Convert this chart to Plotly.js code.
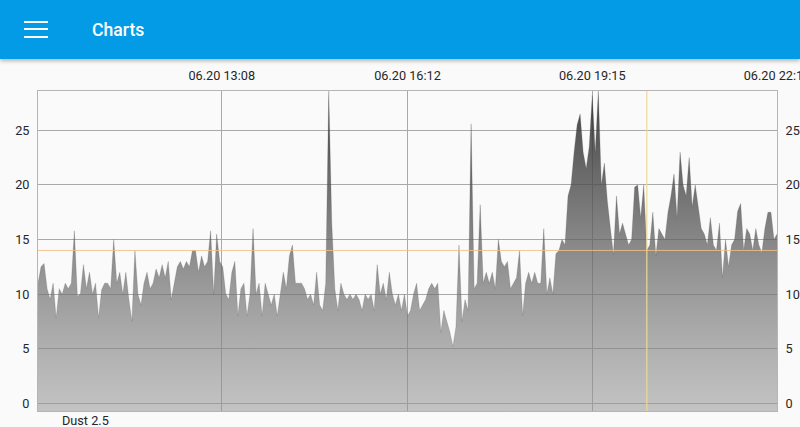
<!DOCTYPE html>
<html>
<head>
<meta charset="utf-8">
<script src="https://cdn.plot.ly/plotly-3.0.1.min.js"></script>
<style>
  html, body { margin: 0; padding: 0; background: #fafafa; width: 800px; height: 427px; overflow: hidden; }
  #chart { position: absolute; left: 0; top: 0; width: 800px; height: 427px; }
  #appbar { position: absolute; left: 0; top: 0; width: 800px; height: 59px; background: #039be5;
            box-shadow: 0 2px 4px rgba(0,0,0,0.28); z-index: 5; }
  .bar { position: absolute; left: 24px; width: 24px; height: 2.4px; background: #ffffff; }
  #title { position: absolute; left: 92px; top: 19px; color: #ffffff; font-family: Roboto, "Noto Sans", sans-serif;
           font-weight: 500; font-size: 17.6px; line-height: 22px; }
</style>
</head>
<body>
<div id="appbar">
  <div class="bar" style="top:20.5px"></div>
  <div class="bar" style="top:28px"></div>
  <div class="bar" style="top:35.5px"></div>
  <div id="title">Charts</div>
</div>
<div id="chart"></div>
<script>
// ---- data ----
const SERIES_NAME = "Dust 2.5";
const START_TIME = "2023-06-20 10:06";   // first sample
const STEP_MINUTES = 3;                   // sampling interval of the readings below
const DUST_25 = [
  11, 12.5, 12.8, 10.5, 9.5, 11, 7.8, 10.5, 10, 11,
  10.5, 11, 15.8, 9.8, 10, 12.7, 10.5, 12, 10, 11,
  7.8, 10.4, 11, 11, 10.5, 15, 11, 12, 10, 12,
  9.5, 7.5, 14, 10, 9, 11, 12, 10.5, 11, 12.3,
  11.5, 12.7, 11.5, 13, 9.5, 11, 12.5, 13, 12.3, 13,
  12.5, 14, 14, 12, 13.5, 12.5, 13, 15.8, 10, 15.5,
  13, 12.5, 10, 9.5, 12, 13, 8, 10.5, 11, 8,
  10, 16, 10, 11, 8, 11, 10, 9, 10, 8,
  10, 12, 10.5, 13.5, 14.5, 11, 11, 11, 10.5, 9.5,
  10, 9, 12, 9, 8.5, 11, 28.6, 16.5, 10.5, 8.5,
  11, 10, 9.5, 10, 9.5, 10, 9.5, 8.5, 10, 9.5,
  10, 8.5, 12.7, 10, 11, 9.5, 12, 10, 9, 10,
  8.5, 10, 8, 8.5, 10, 11, 8.5, 9, 9.5, 10.5,
  11, 10.5, 11, 6.5, 8.5, 7.5, 6.5, 5.2, 7, 14.5,
  7.5, 9.5, 8.5, 25.6, 10.5, 11, 18.2, 11, 12, 11,
  12, 10.5, 15, 13, 12.5, 13, 10.5, 11, 11.5, 14,
  8, 11, 12, 11, 12, 11, 11, 16, 10, 11.5,
  10, 13.7, 14, 15, 14.5, 19, 20, 23, 25.5, 26.5,
  23, 21.5, 23.5, 28.2, 23, 28.6, 20, 22, 18.5, 16,
  13.6, 19, 15.5, 16.5, 15.5, 14.5, 15, 19.8, 20, 17,
  20, 14, 14.5, 17.5, 13.5, 16, 15.5, 15, 17.5, 19,
  21, 17, 23, 20, 19, 22.5, 18, 20, 18, 16,
  15.5, 14.5, 17, 14.5, 14, 16.5, 11.5, 15, 12.5, 14.5,
  15, 17.6, 18.3, 14, 16, 15.5, 14, 16, 14.5, 13.8,
  16, 17.5, 17.5, 15, 15.5
];
const HIGHLIGHT_INDEX = 201;              // the selected entry (crosshair)
const X_TICK_TIMES = ["2023-06-20 13:08", "2023-06-20 16:12", "2023-06-20 19:15", "2023-06-20 22:18"];
const X_TICK_LABELS = ["06.20 13:08", "06.20 16:12", "06.20 19:15", "06.20 22:18"];
const X_RANGE = ["2023-06-20 10:06", "2023-06-20 22:18"];
const Y_RANGE = [-0.7, 28.6];
const Y_TICKS = [0, 5, 10, 15, 20, 25];

// ---- build time axis for the samples ----
function pad(n) { return (n < 10 ? "0" : "") + n; }
function timeAt(i) {
  const p = START_TIME.split(/[- :]/).map(Number);
  const d = new Date(Date.UTC(p[0], p[1] - 1, p[2], p[3], p[4] + i * STEP_MINUTES));
  return d.getUTCFullYear() + "-" + pad(d.getUTCMonth() + 1) + "-" + pad(d.getUTCDate()) + " " +
         pad(d.getUTCHours()) + ":" + pad(d.getUTCMinutes());
}
const TIMES = DUST_25.map((_, i) => timeAt(i));
const BASELINE = DUST_25.map(() => Y_RANGE[0]);

const FONT = { family: "Roboto, 'Noto Sans', sans-serif", size: 12.7, color: "#262626" };
const GRID = "#a9a9a9";

const traces = [
  { // baseline so the area reaches the bottom of the plot like the original
    x: TIMES, y: BASELINE, mode: "lines", line: { width: 0 }, hoverinfo: "skip", showlegend: false
  },
  {
    x: TIMES, y: DUST_25, name: SERIES_NAME, mode: "lines", fill: "tonexty",
    line: { width: 0.6, color: "rgba(90,90,90,0.4)", shape: "linear" },
    fillgradient: {
      type: "vertical",
      start: Y_RANGE[0], stop: Y_RANGE[1],
      colorscale: [[0, "rgba(150,150,150,0.55)"], [0.45, "rgba(105,105,105,0.72)"], [1, "rgba(45,45,45,0.9)"]]
    },
    showlegend: false
  },
  { // carries the right-hand y axis
    x: [TIMES[0]], y: [DUST_25[0]], yaxis: "y2", mode: "markers", marker: { opacity: 0 },
    hoverinfo: "skip", showlegend: false
  }
];

const layout = {
  width: 800, height: 427,
  margin: { l: 38, r: 23, t: 91, b: 16, pad: 0 },
  paper_bgcolor: "#fafafa", plot_bgcolor: "#fafafa",
  font: FONT,
  showlegend: false,
  xaxis: {
    type: "date", side: "top", range: X_RANGE,
    tickmode: "array", tickvals: X_TICK_TIMES, ticktext: X_TICK_LABELS,
    ticks: "outside", ticklen: 5, tickcolor: "rgba(0,0,0,0)",
    ticklabeloverflow: "allow",
    showgrid: true, gridcolor: GRID, gridwidth: 1,
    showline: true, linecolor: "#b5b5b5", linewidth: 1, mirror: true,
    zeroline: false, tickfont: FONT, automargin: false, fixedrange: true
  },
  yaxis: {
    range: Y_RANGE, tickmode: "array", tickvals: Y_TICKS,
    ticks: "outside", ticklen: 5, tickcolor: "rgba(0,0,0,0)",
    showgrid: true, gridcolor: GRID, gridwidth: 1,
    showline: true, linecolor: "#b5b5b5", linewidth: 1, mirror: true,
    zeroline: false, tickfont: FONT, automargin: false, fixedrange: true
  },
  yaxis2: {
    overlaying: "y", side: "right", range: Y_RANGE, tickmode: "array", tickvals: Y_TICKS,
    ticks: "outside", ticklen: 5, tickcolor: "rgba(0,0,0,0)",
    showgrid: false, zeroline: false, showline: false, tickfont: FONT, automargin: false, fixedrange: true
  },
  shapes: [
    { type: "line", xref: "paper", x0: 0, x1: 1, yref: "y", y0: DUST_25[HIGHLIGHT_INDEX], y1: DUST_25[HIGHLIGHT_INDEX],
      line: { color: "rgba(245,190,130,0.85)", width: 1 }, layer: "above" },
    { type: "line", yref: "paper", y0: 0, y1: 1, xref: "x", x0: TIMES[HIGHLIGHT_INDEX], x1: TIMES[HIGHLIGHT_INDEX],
      line: { color: "rgba(240,215,150,0.8)", width: 1.5 }, layer: "above" }
  ],
  annotations: [
    { text: SERIES_NAME, xref: "paper", yref: "paper", x: 0.0298, y: -0.03, xanchor: "left", yanchor: "middle",
      showarrow: false, font: FONT }
  ]
};

Plotly.newPlot("chart", traces, layout, { staticPlot: true, displayModeBar: false });
</script>
</body>
</html>
